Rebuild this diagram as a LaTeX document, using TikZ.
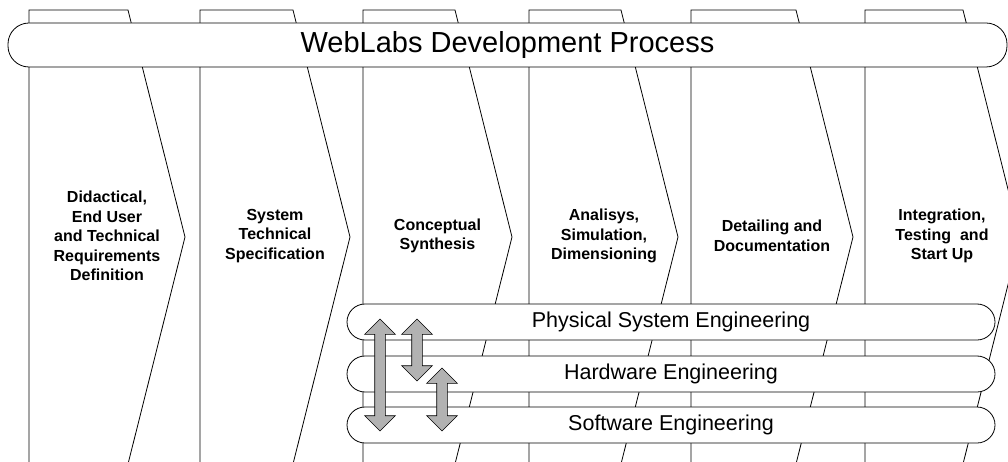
\documentclass[tikz,border=0pt]{standalone}
\usepackage{fontspec}
\setmainfont{Liberation Sans}
\usetikzlibrary{shapes.arrows}
\tikzset{
  stage/.style={
    draw=black,
    line width=0.8pt,
    fill=white
  },
  stagetext/.style={
    align=center,
    font=\fontsize{16}{19.5}\selectfont\bfseries
  },
  bar/.style={
    rectangle,
    rounded corners=21pt,
    minimum width=999pt,
    minimum height=44pt,
    draw=black,
    line width=0.8pt,
    fill=white,
    font=\fontsize{29}{34}\selectfont
  },
  lane/.style={
    rectangle,
    rounded corners=18pt,
    minimum width=648pt,
    minimum height=36pt,
    draw=black,
    line width=0.8pt,
    fill=white,
    font=\fontsize{21.5}{25}\selectfont
  },
  link/.style={
    double arrow,
    double arrow head extend=10pt,
    inner sep=5pt,
    minimum width=30pt,
    rotate=90,
    draw=black,
    line width=0.6pt,
    fill=gray!60
  }
}

\begin{document}
\begin{tikzpicture}[x=1pt, y=-1pt]
  \useasboundingbox (0,0) rectangle (1008,462);
  \clip (0,0) rectangle (1008,462);
  \draw[stage] (29,464) -- (29,10) -- (128,10) -- (185,237) -- (128,464) -- cycle;
  \draw[stage] (200,464) -- (200,10) -- (293,10) -- (350,237) -- (293,464) -- cycle;
  \draw[stage] (363,464) -- (363,10) -- (455,10) -- (512,237) -- (455,464) -- cycle;
  \draw[stage] (529,464) -- (529,10) -- (621,10) -- (678,237) -- (621,464) -- cycle;
  \draw[stage] (691,464) -- (691,10) -- (796,10) -- (853,237) -- (796,464) -- cycle;
  \draw[stage] (865,464) -- (865,10) -- (963,10) -- (1020,237) -- (963,464) -- cycle;
  \node (req) [stagetext] at (107,236) {Didactical,\\End User\\and Technical\\Requirements\\Definition};
  \node (spec) [stagetext] at (275,236) {System\\Technical\\Specification};
  \node (synth) [stagetext] at (437.5,236) {Conceptual\\Synthesis};
  \node (anal) [stagetext] at (604,236) {Analisys,\\Simulation,\\Dimensioning};
  \node (docu) [stagetext] at (772,236) {Detailing and\\Documentation};
  \node (integ) [stagetext] at (942,236) {Integration,\\Testing\ \ and\\Start Up};
  \node (title) [bar] at (507.5,45) {WebLabs Development Process};
  \node (phys) [lane] at (671,322) {Physical System Engineering};
  \node (hw) [lane] at (671,374) {Hardware Engineering};
  \node (sw) [lane] at (671,425) {Software Engineering};
  \node (physsw) [link, minimum height=112pt] at (380,375) {};
  \node (physhw) [link, minimum height=62pt] at (417,350) {};
  \node (hwsw) [link, minimum height=63pt] at (442,399.5) {};
\end{tikzpicture}
\end{document}
